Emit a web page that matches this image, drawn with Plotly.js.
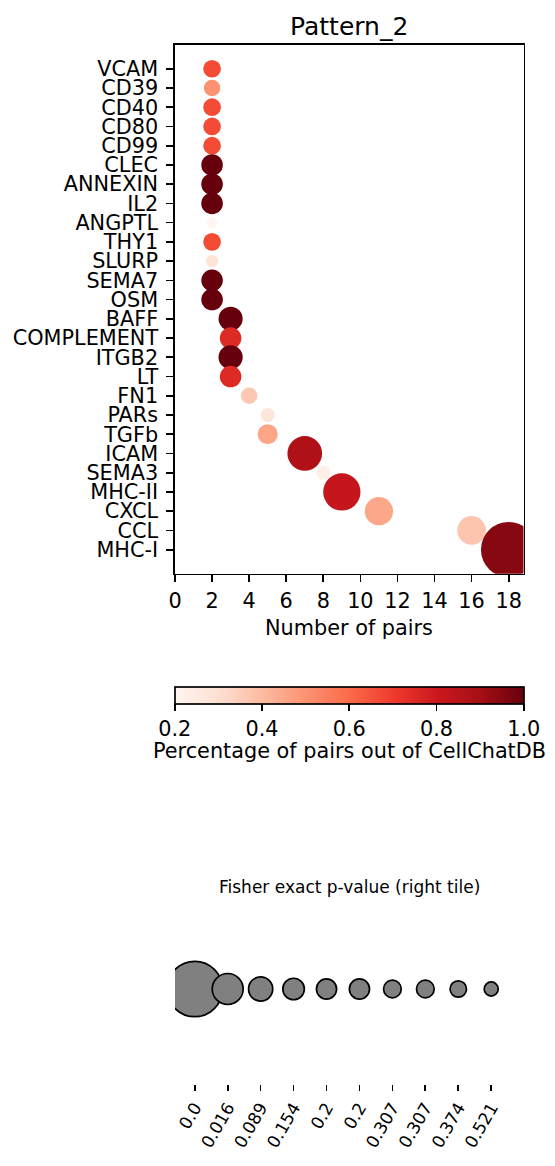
<!DOCTYPE html>
<html>
<head>
<meta charset="utf-8">
<script src="https://cdn.plot.ly/plotly-3.0.1.min.js"></script>
<style>html,body{margin:0;padding:0;background:#fff;}#chart{width:555px;height:1166px;}</style>
</head>
<body>
<div id="chart"></div>
<script>
// ---- data ----
const pathways = ["VCAM","CD39","CD40","CD80","CD99","CLEC","ANNEXIN","IL2","ANGPTL","THY1","SLURP","SEMA7","OSM","BAFF","COMPLEMENT","ITGB2","LT","FN1","PARs","TGFb","ICAM","SEMA3","MHC-II","CXCL","CCL","MHC-I"];
const numPairs = [2,2,2,2,2,2,2,2,2,2,2,2,2,3,3,3,3,4,5,5,7,8,9,11,16,18];
const pctPairs = [0.667,0.5,0.667,0.667,0.667,1.0,1.0,1.0,0.2,0.667,0.286,1.0,1.0,1.0,0.75,1.0,0.75,0.364,0.278,0.4545,0.875,0.23,0.818,0.45,0.372,0.947];
const pValues  = [0.307,0.374,0.307,0.307,0.307,0.154,0.154,0.154,0.74,0.307,0.64,0.154,0.154,0.089,0.154,0.089,0.154,0.374,0.521,0.2,0.0052,0.521,0.0022,0.033,0.030,0.0];
const legendPLabels = ["0.0","0.016","0.089","0.154","0.2","0.2","0.307","0.307","0.374","0.521"];
const legendPValues = [0.0,0.016,0.089,0.154,0.2,0.2,0.307,0.307,0.374,0.521];
const cbTicks = [0.2,0.4,0.6,0.8,1.0];

// ---- helpers ----
const W = 555, H = 1166;
const fx = px => px / W;
const fy = py => 1 - py / H;
// marker diameter from p-value (area grows with -log10 p)
function pToSize(p){
  const l = -Math.log10(Math.max(p, 1e-6));
  return Math.sqrt(55 + 503 * l);
}
const reds = [
  [0.0,"#fff5f0"],[0.125,"#fee0d2"],[0.25,"#fcbba1"],[0.375,"#fc9272"],
  [0.5,"#fb6a4a"],[0.625,"#ef3b2c"],[0.75,"#cb181d"],[0.875,"#a50f15"],[1.0,"#67000d"]
];
const FONT = "DejaVu Sans";

const mainTrace = {
  type: "scatter", mode: "markers",
  x: numPairs, y: pathways,
  xaxis: "x", yaxis: "y",
  cliponaxis: true,
  hoverinfo: "skip",
  marker: {
    size: pValues.map(pToSize),
    color: pctPairs,
    colorscale: reds, cmin: 0.2, cmax: 1.0,
    line: {width: 0},
    opacity: 1,
    showscale: true,
    colorbar: {
      orientation: "h",
      x: fx(349.25), xanchor: "center",
      y: fy(687.3), yanchor: "top",
      lenmode: "fraction", len: 348.5 / W,
      thicknessmode: "pixels", thickness: 17,
      xpad: 0, ypad: 0,
      outlinewidth: 1.7, outlinecolor: "#000",
      borderwidth: 0,
      ticks: "outside", ticklen: 7, tickwidth: 1.7, tickcolor: "#000",
      tickvals: cbTicks, ticktext: cbTicks.map(v => v.toFixed(1)),
      tickfont: {family: FONT, size: 20.8, color: "#000"}
    }
  }
};

const legendTrace = {
  type: "scatter", mode: "markers",
  x: legendPValues.map((_, i) => i), y: legendPValues.map(() => 0),
  xaxis: "x2", yaxis: "y2",
  cliponaxis: true,
  hoverinfo: "skip",
  marker: {
    size: legendPValues.map(pToSize),
    color: "#808080",
    opacity: 1,
    line: {color: "#000", width: 1.7}
  }
};

const axisCommon = {
  showgrid: false, zeroline: false, automargin: false, fixedrange: true,
  ticks: "outside", ticklen: 7, tickwidth: 1.7, tickcolor: "#000",
  showline: true, linecolor: "#000", linewidth: 1.7, mirror: true,
  tickfont: {family: FONT, size: 20.8, color: "#000"}
};

const layout = {
  width: W, height: H,
  margin: {l: 0, r: 0, t: 0, b: 0, pad: 0, autoexpand: false},
  paper_bgcolor: "#fff", plot_bgcolor: "#fff",
  showlegend: false,
  font: {family: FONT, color: "#000"},
  xaxis: Object.assign({}, axisCommon, {
    domain: [fx(175), fx(523.5)], anchor: "y",
    range: [0, 18.8], tickmode: "linear", tick0: 0, dtick: 2, ticklabelstandoff: 1
  }),
  yaxis: Object.assign({}, axisCommon, {
    domain: [fy(573.7), fy(44.7)], anchor: "x",
    type: "category", categoryorder: "array", categoryarray: pathways,
    tickmode: "array", tickvals: pathways, ticktext: pathways,
    range: [pathways.length - 1 + 1.25, -1.25], ticklabelstandoff: 4
  }),
  xaxis2: {
    domain: [fx(175), fx(523.5)], anchor: "y2",
    range: [-0.6, 9.98],
    showgrid: false, zeroline: false, showline: false, automargin: false, fixedrange: true,
    ticks: "outside", ticklen: 6, tickwidth: 1.7, tickcolor: "#000",
    tickmode: "array", tickvals: legendPValues.map((_, i) => i), ticktext: legendPLabels,
    tickangle: -60,
    tickfont: {family: FONT, size: 17, color: "#000"}
  },
  yaxis2: {
    domain: [fy(1084), fy(894)], anchor: "x2",
    range: [-1, 1], visible: false, fixedrange: true
  },
  annotations: [
    {text: "Pattern_2", xref: "paper", yref: "paper", x: fx(349.25), y: fy(26), xanchor: "center", yanchor: "middle", showarrow: false, font: {family: FONT, size: 25, color: "#000"}},
    {text: "Number of pairs", xref: "paper", yref: "paper", x: fx(349.25), y: fy(628), xanchor: "center", yanchor: "middle", showarrow: false, font: {family: FONT, size: 20.8, color: "#000"}},
    {text: "Percentage of pairs out of CellChatDB", xref: "paper", yref: "paper", x: fx(349), y: fy(751), xanchor: "center", yanchor: "middle", showarrow: false, font: {family: FONT, size: 20.8, color: "#000"}},
    {text: "Fisher exact p-value (right tile)", xref: "paper", yref: "paper", x: fx(349), y: fy(887), xanchor: "center", yanchor: "middle", showarrow: false, font: {family: FONT, size: 17, color: "#000"}}
  ]
};

Plotly.newPlot("chart", [mainTrace, legendTrace], layout, {staticPlot: true, displayModeBar: false});
</script>
</body>
</html>
